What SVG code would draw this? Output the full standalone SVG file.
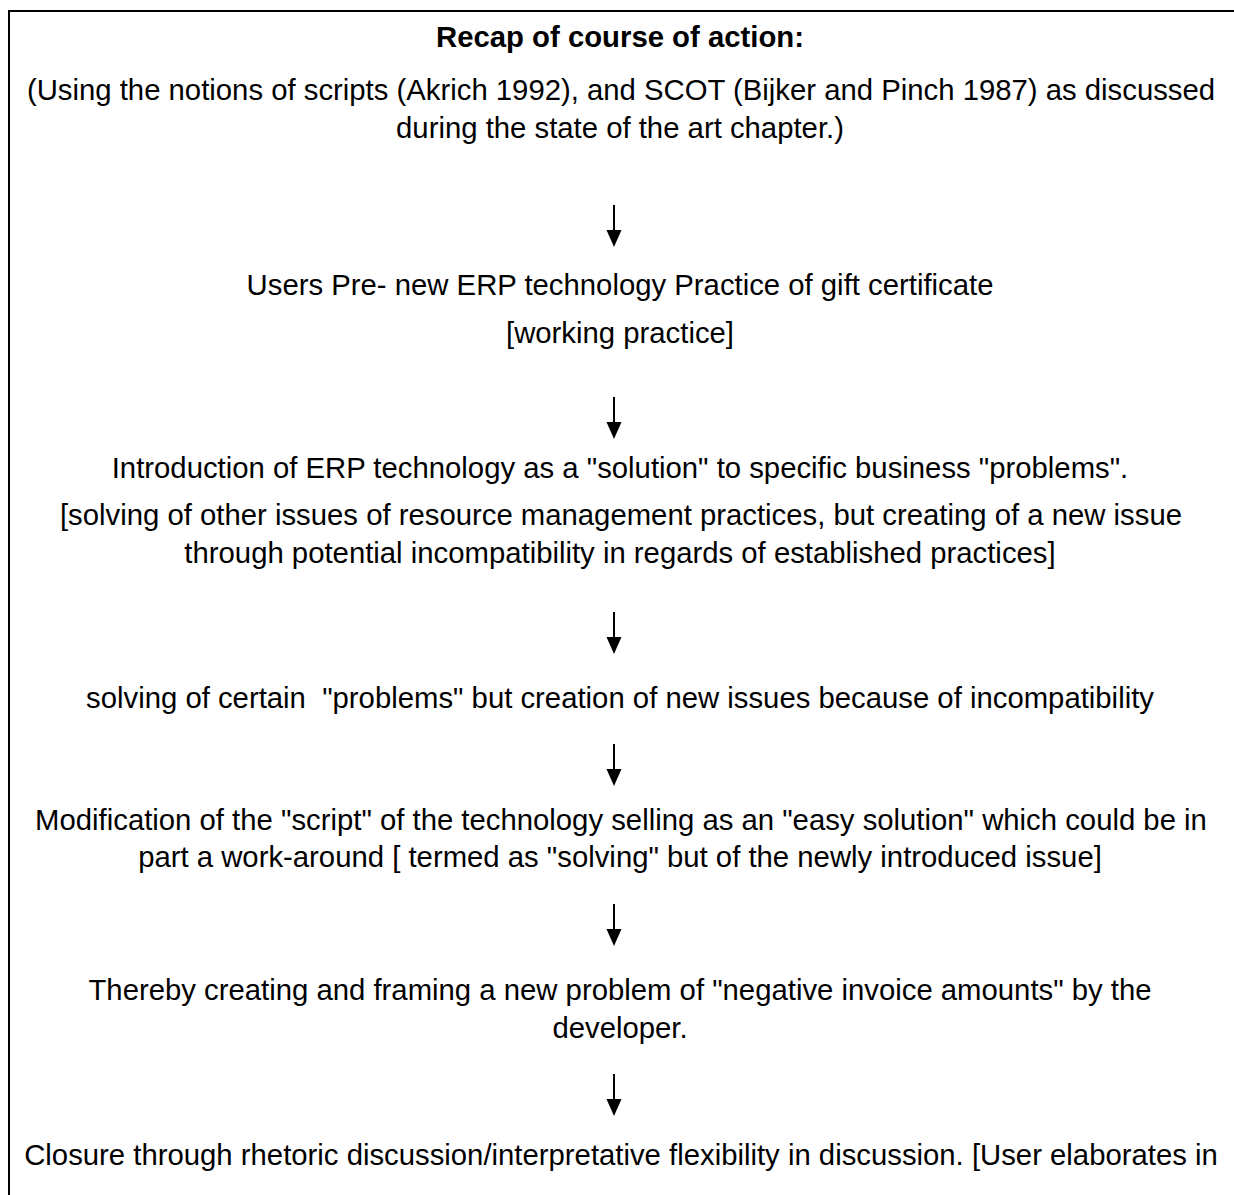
<svg xmlns="http://www.w3.org/2000/svg" width="1234" height="1195" viewBox="0 0 1234 1195">
<style>
text{font-family:"Liberation Sans",Arial,sans-serif;font-size:29.3px;fill:#000;text-anchor:middle}
.b{font-weight:bold}
.arr{stroke:#000;stroke-width:2;fill:none}
</style>
<rect x="0" y="0" width="1234" height="1195" fill="#fff"/>
<path d="M9,1195 V11 H1234" fill="none" stroke="#000" stroke-width="2"/>
<g id="intro">
<text class="b" x="620" y="47">Recap of course of action:</text>
<text x="621" y="100">(Using the notions of scripts (Akrich 1992), and SCOT (Bijker and Pinch 1987) as discussed</text>
<text x="620" y="138">during the state of the art chapter.)</text>
</g>
<g id="n1">
<text x="620" y="295">Users Pre- new ERP technology Practice of gift certificate</text>
<text x="620" y="343">[working practice]</text>
</g>
<g id="n2">
<text x="620" y="478">Introduction of ERP technology as a "solution" to specific business "problems".</text>
<text x="621" y="525">[solving of other issues of resource management practices, but creating of a new issue</text>
<text x="620" y="563">through potential incompatibility in regards of established practices]</text>
</g>
<g id="n3">
<text x="620" y="708" xml:space="preserve">solving of certain  "problems" but creation of new issues because of incompatibility</text>
</g>
<g id="n4">
<text x="621" y="830">Modification of the "script" of the technology selling as an "easy solution" which could be in</text>
<text x="620" y="867">part a work-around [ termed as "solving" but of the newly introduced issue]</text>
</g>
<g id="n5">
<text x="620" y="1000">Thereby creating and framing a new problem of "negative invoice amounts" by the</text>
<text x="620" y="1038">developer.</text>
</g>
<g id="n6">
<text x="621" y="1165">Closure through rhetoric discussion/interpretative flexibility in discussion. [User elaborates in</text>
</g>
<g id="connectors">
<g fill="#000">
<path class="arr" d="M614,205 V232"/><path d="M606.5,230 L621.5,230 L614,247 Z"/>
<path class="arr" d="M614,397 V424"/><path d="M606.5,422 L621.5,422 L614,439 Z"/>
<path class="arr" d="M614,612 V639"/><path d="M606.5,637 L621.5,637 L614,654 Z"/>
<path class="arr" d="M614,744 V771"/><path d="M606.5,769 L621.5,769 L614,786 Z"/>
<path class="arr" d="M614,904 V931"/><path d="M606.5,929 L621.5,929 L614,946 Z"/>
<path class="arr" d="M614,1074 V1101"/><path d="M606.5,1099 L621.5,1099 L614,1116 Z"/>
</g>
</g>
</svg>
